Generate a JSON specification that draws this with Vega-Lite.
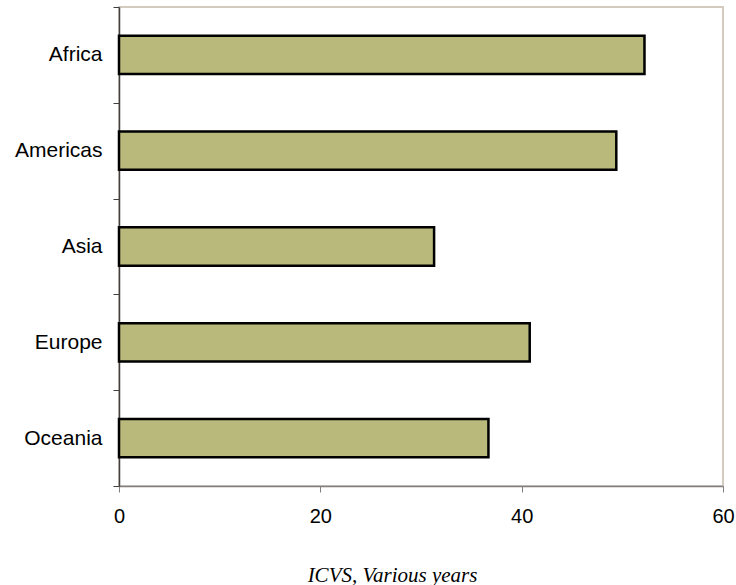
{
  "$schema": "https://vega.github.io/schema/vega-lite/v6.json",
  "autosize": {"type": "none"},
  "padding": {"left": 119, "top": 7, "right": 13, "bottom": 99},
  "width": 604,
  "height": 479,
  "background": "white",
  "view": {"stroke": "#d3cbc0", "strokeWidth": 2},
  "data": {
    "values": [
      {"region": "Africa", "value": 52.2},
      {"region": "Americas", "value": 49.4},
      {"region": "Asia", "value": 31.3},
      {"region": "Europe", "value": 40.8},
      {"region": "Oceania", "value": 36.7}
    ]
  },
  "mark": {"type": "bar", "fill": "#b8b97b", "stroke": "#000000", "strokeWidth": 2.5, "height": {"band": 0.4}},
  "encoding": {
    "y": {
      "field": "region",
      "type": "nominal",
      "sort": ["Africa", "Americas", "Asia", "Europe", "Oceania"],
      "scale": {"paddingInner": 0, "paddingOuter": 0},
      "axis": {
        "title": null,
        "tickBand": "extent",
        "tickSize": 6,
        "tickColor": "#404040",
        "domainColor": "#404040",
        "domainWidth": 1.5,
        "labelPadding": 11,
        "labelFont": "Liberation Sans",
        "labelFontSize": 21,
        "labelColor": "#000000"
      }
    },
    "x": {
      "field": "value",
      "type": "quantitative",
      "scale": {"domain": [0, 60], "nice": false},
      "axis": {
        "values": [0, 20, 40, 60],
        "grid": false,
        "tickSize": 6,
        "tickColor": "#7f7f7f",
        "domainColor": "#7f7f7f",
        "domainWidth": 1.5,
        "labelPadding": 14,
        "labelFont": "Liberation Sans",
        "labelFontSize": 20,
        "labelColor": "#000000",
        "labelFlush": false,
        "title": "ICVS, Various years",
        "titleFont": "Liberation Serif",
        "titleFontStyle": "italic",
        "titleFontWeight": "normal",
        "titleFontSize": 21,
        "titleColor": "#000000",
        "titleX": 273,
        "titleY": 89,
        "titleBaseline": "middle",
        "titleAlign": "center"
      }
    }
  }
}
